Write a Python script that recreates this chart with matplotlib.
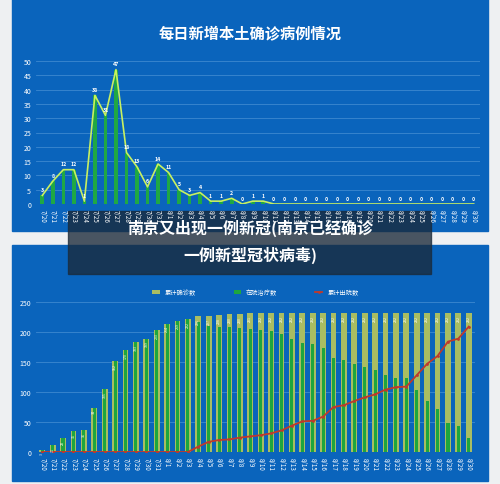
import matplotlib
matplotlib.use("Agg")
import matplotlib.pyplot as plt
import numpy as np
from matplotlib.patches import Rectangle

plt.rcParams['font.family'] = ['Noto Sans CJK SC', 'DejaVu Sans']

dates = ["7/20","7/21","7/22","7/23","7/24","7/25","7/26","7/27","7/28","7/29","7/30","7/31"] + [f"8/{d}" for d in range(1, 31)]
daily_new = [3,8,12,12,1,38,31,47,18,13,6,14,11,5,3,4,1,1,2,0,1,1] + [0]*20
cumulative = [3,11,23,35,36,74,105,152,170,183,189,203,214,219,222,226,227,228,230,230,231,232] + [232]*20
discharged = [0]*15 + [9,17,20,21,24,26,28,31,36,44,51,52,59,75,78,85,91,96,104,108,109,128,147,160,184,189,209]
in_hospital = [c - d for c, d in zip(cumulative, discharged)]

W, H = 500, 485
fig = plt.figure(figsize=(5, 4.85), dpi=100)
fig.patch.set_facecolor('#eef0f2')
blue = '#0a64bc'

def px(x0, y0, x1, y1):
    return [x0/W, 1-y1/H, (x1-x0)/W, (y1-y0)/H]

bg = fig.add_axes([0, 0, 1, 1]); bg.set_xlim(0, W); bg.set_ylim(H, 0); bg.axis('off')
bg.add_patch(Rectangle((12, 0), 476, 232, color=blue))
bg.add_patch(Rectangle((12, 246), 476, 236, color=blue))
bg.text(250, 33, "每日新增本土确诊病例情况", color='white', ha='center', va='center', fontsize=11, fontweight='bold')

x = np.arange(len(dates))
# top chart
a1 = fig.add_axes(px(36, 62, 480, 205))
a1.set_facecolor('none')
a1.bar(x, daily_new, width=0.35, color='#1fa844')
a1.plot(x, daily_new, color='#c8f060', lw=1.2)
for i, v in enumerate(daily_new):
    a1.text(i, v + 1.2, str(v), color='white', fontsize=3.8, ha='center', va='bottom', fontweight='bold')
a1.set_ylim(0, 50); a1.set_xlim(-0.6, len(x) - 0.4)
a1.set_yticks(range(0, 51, 5))
a1.set_xticks(x); a1.set_xticklabels(dates, rotation=270, fontsize=4.5, color='white')
a1.tick_params(axis='y', labelsize=5, colors='white', length=0)
a1.tick_params(axis='x', length=0)
a1.grid(axis='y', color='#3d88d0', lw=0.6)
a1.set_axisbelow(True)
for s in a1.spines.values(): s.set_visible(False)

# bottom chart
a2 = fig.add_axes(px(36, 303, 475, 453))
a2.set_facecolor('none')
b1 = a2.bar(x, cumulative, width=0.55, color='#a9bd62', label='累计确诊数')
b2 = a2.bar(x, in_hospital, width=0.3, color='#1ea63e', label='在院治疗数')
l3, = a2.plot(x, discharged, color='#c0392b', lw=1.3, marker='.', ms=2, label='累计出院数')
for i in range(len(x)):
    a2.text(i, cumulative[i] - 3, str(cumulative[i]), color='white', fontsize=2.6, ha='center', va='top', rotation=90)
a2.set_ylim(0, 250); a2.set_xlim(-0.6, len(x) - 0.4)
a2.set_yticks(range(0, 251, 50))
a2.set_xticks(x); a2.set_xticklabels(dates, rotation=270, fontsize=4.5, color='white')
a2.tick_params(axis='y', labelsize=5, colors='white', length=0)
a2.tick_params(axis='x', length=0)
a2.grid(axis='y', color='#3d88d0', lw=0.6)
a2.set_axisbelow(True)
for s in a2.spines.values(): s.set_visible(False)
a2.legend(handles=[b1, b2, l3], loc='lower center', bbox_to_anchor=(0.5, 1.0), ncol=3, frameon=False, fontsize=4.5,
          labelcolor='white', handlelength=1.2, columnspacing=6)

# overlay caption
bg.add_patch(Rectangle((68, 212), 363, 63, color='#1a2a3a', alpha=0.78))
bg.text(250, 228, "南京又出现一例新冠(南京已经确诊", color='white', ha='center', va='center', fontsize=11.5, fontweight='bold')
bg.text(250, 255, "一例新型冠状病毒)", color='white', ha='center', va='center', fontsize=11.5, fontweight='bold')

fig.savefig('out.png', dpi=100, facecolor=fig.get_facecolor())
